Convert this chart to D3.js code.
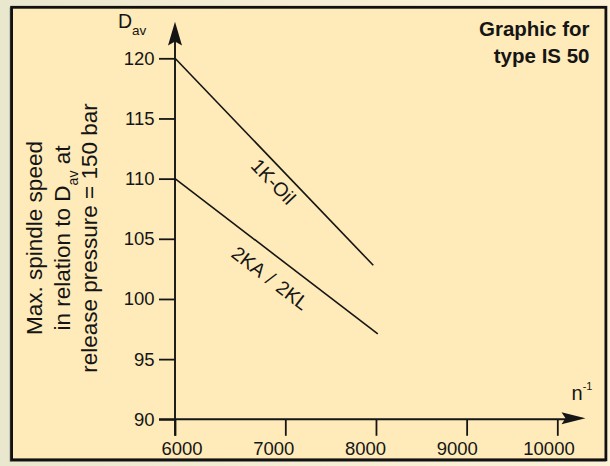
<!DOCTYPE html>
<html>
<head>
<meta charset="utf-8">
<script src="https://cdn.jsdelivr.net/npm/d3@7"></script>
<style>
  html, body { margin: 0; padding: 0; background: #f4efd6; }
  svg { display: block; }
  text { font-family: "Liberation Sans", Arial, sans-serif; fill: #151515; }
</style>
</head>
<body>
<svg id="chart" width="610" height="466"></svg>
<script>
// ---- data ----
const yTicks = [90, 95, 100, 105, 110, 115, 120];
const xTicks = [6000, 7000, 8000, 9000, 10000];
const oilX = [6000, 7970];
const oilY = [120, 102.8];
const kaX = [6000, 8020];
const kaY = [110, 97.1];
const seriesNames = ["1K-Oil", "2KA / 2KL"];
const titleLines = ["Graphic for", "type IS 50"];

const svg = d3.select("#chart");

// background
const defs = svg.append("defs");
const grad = defs.append("linearGradient").attr("id", "bg").attr("x1", "0").attr("x2", "1").attr("y1", "0").attr("y2", "0");
grad.append("stop").attr("offset", "0").attr("stop-color", "#e9e7ce");
grad.append("stop").attr("offset", "0.5").attr("stop-color", "#f6eed4");
grad.append("stop").attr("offset", "1").attr("stop-color", "#fcf2d6");
svg.append("rect").attr("width", 610).attr("height", 466).attr("fill", "url(#bg)");

// frame (with slight shadow to the lower-left)
svg.append("rect").attr("x", 10.6).attr("y", 8.4).attr("width", 594.3).attr("height", 452.5)
  .attr("fill", "none").attr("stroke", "#9a9a88").attr("stroke-width", 2);
svg.append("rect").attr("x", 11.6).attr("y", 7.3).attr("width", 594.3).attr("height", 452.5)
  .attr("fill", "#feebb9").attr("stroke", "#111").attr("stroke-width", 2.8);

// scales
const x = d3.scaleLinear().domain([6000, 7000, 10000]).range([175, 285.3, 557.3]);
const xLab = d3.scaleLinear().domain([7000, 10000]).range([273.3, 548.5]);
const y = d3.scaleLinear().domain([90, 120]).range([419.3, 58.3]);

const ink = "#151515";

// y axis ticks + labels
const gy = svg.append("g").attr("transform", `translate(${x(6000)},0)`)
  .call(d3.axisLeft(y).tickValues(yTicks).tickSize(16).tickPadding(4.5).tickFormat(d3.format("d")));
gy.select(".domain").remove();
gy.selectAll("line").attr("stroke", ink).attr("stroke-width", 1.8);
gy.selectAll("text").style("font-size", "18.5px").attr("fill", ink)
  .style("font-family", '"Liberation Sans", Arial, sans-serif');

// x axis ticks
const gx = svg.append("g").attr("transform", `translate(0,${y(90)})`)
  .call(d3.axisBottom(x).tickValues(xTicks).tickSize(16.5).tickFormat(""));
gx.select(".domain").remove();
gx.selectAll("line").attr("stroke", ink).attr("stroke-width", 1.8);

// x axis labels
const gxl = svg.append("g").attr("transform", `translate(0,${y(90)})`)
  .call(d3.axisBottom(xLab).tickValues(xTicks).tickSize(0).tickPadding(22.4).tickFormat(d3.format("d")));
gxl.select(".domain").remove();
gxl.selectAll("text").style("font-size", "18.5px").attr("fill", ink)
  .style("font-family", '"Liberation Sans", Arial, sans-serif');

// axis lines
const x0 = x(6000), y0 = y(90);
svg.append("line").attr("x1", x0).attr("x2", x0).attr("y1", y0 + 16.5).attr("y2", 34)
  .attr("stroke", ink).attr("stroke-width", 1.9);
svg.append("line").attr("x1", x0 - 16).attr("x2", 575).attr("y1", y0).attr("y2", y0)
  .attr("stroke", ink).attr("stroke-width", 1.9);

// arrowheads
svg.append("path")
  .attr("d", `M${x0},21.8 L${x0 + 7},45.5 L${x0},41.5 L${x0 - 7},45.5 Z`)
  .attr("fill", ink);
svg.append("path")
  .attr("d", `M585.5,${y0 - 1} L561.5,${y0 - 7} L565.5,${y0 - 1} L561.5,${y0 + 5} Z`)
  .attr("fill", ink);

// data lines
const line = d3.line().x(d => x(d[0])).y(d => y(d[1]));
const oil = oilX.map((v, i) => [v, oilY[i]]);
const ka = kaX.map((v, i) => [v, kaY[i]]);
[oil, ka].forEach(s => {
  svg.append("path").attr("d", line(s)).attr("fill", "none")
    .attr("stroke", ink).attr("stroke-width", 1.6);
});

// line labels
function lineLabel(s, name, frac, off) {
  const px0 = x(s[0][0]), py0 = y(s[0][1]);
  const px1 = x(s[1][0]), py1 = y(s[1][1]);
  const dx = px1 - px0, dy = py1 - py0;
  const len = Math.hypot(dx, dy);
  const ux = dx / len, uy = dy / len;
  const fx = px0 + dx * frac, fy = py0 + dy * frac;
  const nx = -uy, ny = ux;
  const ang = Math.atan2(dy, dx) * 180 / Math.PI;
  svg.append("text")
    .attr("transform", `translate(${fx + nx * off},${fy + ny * off}) rotate(${ang})`)
    .attr("text-anchor", "middle")
    .style("font-size", "19.5px")
    .style("word-spacing", "2px")
    .text(name);
}
lineLabel(oil, seriesNames[0], 0.548, 21);
lineLabel(ka, seriesNames[1], 0.533, 28);

// title
svg.append("text").attr("x", 589.5).attr("y", 36).attr("text-anchor", "end")
  .style("font-size", "20.5px").style("font-weight", "bold").text(titleLines[0]);
svg.append("text").attr("x", 589.5).attr("y", 62.7).attr("text-anchor", "end")
  .style("font-size", "20.5px").style("font-weight", "bold").text(titleLines[1]);

// D_av axis label
const dl = svg.append("text").attr("x", 118).attr("y", 27.5).style("font-size", "19.5px");
dl.append("tspan").text("D");
dl.append("tspan").attr("dy", 7.6).style("font-size", "13.5px").text("av");

// n^-1 label
const nl = svg.append("text").attr("x", 571.5).attr("y", 400).style("font-size", "20px");
nl.append("tspan").text("n");
nl.append("tspan").attr("dy", -10).style("font-size", "11px").text("-1");

// y title (rotated, three lines)
const yCenter = 238;
const yt = [
  { x: 41.7, parts: [["Max. spindle speed", 0, null]] },
  { x: 70, parts: [["in relation to D", 0, null], ["av", 7.5, "14px"], [" at", -7.5, null]] },
  { x: 96.7, parts: [["release pressure = 150 bar", 0, null]] }
];
yt.forEach(r => {
  const t = svg.append("text")
    .attr("transform", `translate(${r.x},${yCenter}) rotate(-90)`)
    .attr("text-anchor", "middle")
    .style("font-size", "22.5px");
  r.parts.forEach(p => {
    const ts = t.append("tspan").text(p[0]);
    if (p[1]) ts.attr("dy", p[1]);
    if (p[2]) ts.style("font-size", p[2]);
  });
});
</script>
</body>
</html>
